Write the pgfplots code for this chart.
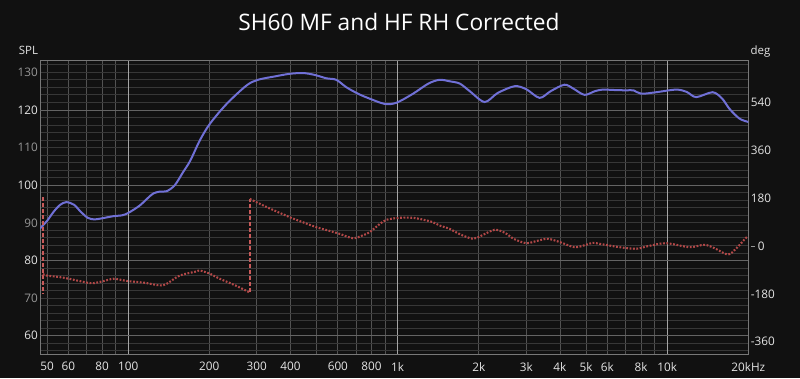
\documentclass[border=0pt]{standalone}
\usepackage{pgfplots}
\pgfplotsset{compat=1.18}
\usepackage{fontspec}
\setmainfont{Open Sans}
\definecolor{bg}{RGB}{17,17,17}
\definecolor{hminor}{RGB}{55,55,55}
\definecolor{hmajor}{RGB}{100,100,100}
\definecolor{vgrid}{RGB}{82,82,82}
\definecolor{decade}{RGB}{165,165,165}
\definecolor{frame}{RGB}{120,120,120}
\definecolor{splblue}{RGB}{112,112,214}
\definecolor{phred}{RGB}{178,72,72}
\definecolor{phwrap}{RGB}{200,90,90}
\definecolor{labw}{RGB}{228,228,228}
\definecolor{labg}{RGB}{150,150,150}
\begin{document}
\begin{tikzpicture}[x=1bp,y=1bp]
\fill[bg] (0,0) rectangle (800,378);
\useasboundingbox (0,0) rectangle (800,378);
\node[anchor=base,text=white,font=\fontsize{22.8}{26}\selectfont] at (399,347.3) {SH60 MF and HF RH Corrected};
\node[anchor=base,text=labw,font=\fontsize{11.5}{13}\selectfont] at (28.5,324) {SPL};
\node[anchor=base,text=labw,font=\fontsize{11.5}{13}\selectfont] at (760.5,324) {deg};
\begin{axis}[
  at={(40bp,24bp)}, anchor=south west, scale only axis,
  width=708.3bp, height=293.3bp,
  xmode=log, xmin=47.1, xmax=20000,
  ymin=55.14, ymax=133.08,
  axis line style={draw=frame, line width=0.8bp},
  major tick length=0pt, minor tick length=0pt,
  tick style={draw=none},
  xtick={50,60,80,200,300,400,600,800,2000,3000,4000,5000,6000,8000,20000},
  xticklabels={50,60,80,200,300,400,600,800,2k,3k,4k,5k,6k,8k,20kHz},
  minor xtick={70,90,500,700,900,7000,9000},
  extra x ticks={100,1000,10000},
  extra x tick labels={100,1k,10k},
  extra x tick style={major x grid style={draw=decade, line width=0.9bp}},
  xmajorgrids, xminorgrids,
  major x grid style={draw=vgrid, line width=0.8bp},
  minor x grid style={draw=vgrid, line width=0.8bp},
  ytick={70,90,110,130},
  yticklabels={{\color{labg}70},{\color{labg}90},{\color{labg}110},{\color{labg}130}},
  extra y ticks={60,80,100,120},
  extra y tick labels={{\color{labw}60},{\color{labw}80},{\color{labw}100},{\color{labw}120}},
  extra y tick style={major y grid style={draw=hmajor, line width=0.8bp}},
  minor ytick={56,58,...,132},
  ymajorgrids, yminorgrids,
  major y grid style={draw=hminor, line width=0.8bp},
  minor y grid style={draw=hminor, line width=0.8bp},
  xticklabel style={text=labw, font=\fontsize{11.8}{13}\selectfont, inner sep=0pt, anchor=north, yshift=-8bp},
  yticklabel style={font=\fontsize{11.8}{13}\selectfont, inner sep=0pt, anchor=east, xshift=-2bp},
]
\addplot[splblue, line width=2bp, smooth, tension=0.5] coordinates {
(47.1,88.5) (50,90.5) (53,93.0) (56,94.8) (59,95.5) (63,94.8) (67,92.8) (71,91.3)
(75,90.9) (80,91.2) (88,91.75) (95,92.0) (100,92.6) (110,94.5) (118,96.5) (124,97.8)
(131,98.3) (139,98.4) (149,100) (160,103.5) (170,106.5) (184.5,111.9) (201,116.3)
(232,121.6) (275,126.5) (303,128.0) (350,128.9) (398,129.6) (446,129.8) (492,129.3)
(544,128.4) (592,128.0) (646,126.0) (713,124.3) (787,123.0) (895,121.6) (989,121.9)
(1140,124.3) (1300,127.0) (1430,128.0) (1560,127.6) (1700,127.0) (1850,125.0)
(2102,122.1) (2350,124.5) (2716,126.3) (3000,125.5) (3362,123.2) (3700,125.0)
(4160,126.7) (4500,125.6) (4934,124.0) (5400,125.0) (5768,125.4) (6300,125.3)
(7043,125.2) (7500,125.2) (8009,124.3) (9100,124.7) (10790,125.4) (11800,124.8)
(12810,123.4) (14750,124.7) (16000,123.0) (17020,120.3) (18540,117.7) (20000,116.8)
};
\end{axis}
\begin{axis}[
  at={(40bp,24bp)}, anchor=south west, scale only axis,
  width=708.3bp, height=293.3bp,
  xmode=log, xmin=47.1, xmax=20000,
  ymin=-406.3, ymax=698.2,
  hide x axis, axis y line*=right,
  axis line style={draw=none},
  major tick length=0pt, tick style={draw=none},
  ytick={-360,-180,0,180,360,540},
  yticklabels={-360,-180,{\textcolor{labg}{\rule[3.8bp]{4.5bp}{0.7bp}}\hspace{2.5bp}0},180,360,540},
  yticklabel style={text=labw, font=\fontsize{11.8}{13}\selectfont, inner sep=0pt, anchor=west, xshift=2.4bp},
]
\addplot[phwrap, line width=2bp, dash pattern=on 4bp off 2bp] coordinates {(48.2,184) (48.2,-180)};
\addplot[phred, line width=2.1bp, dash pattern=on 1.8bp off 1.6bp, smooth, tension=0.5] coordinates {
(48.3,-105) (49.8,-110.7) (55,-116) (59.1,-121) (65,-130) (73.1,-139.7) (80,-133)
(88,-123) (94,-127) (100,-132) (115,-138) (131,-148) (139,-142) (155.5,-110.7)
(179,-95.6) (184.5,-92) (200,-103) (218.8,-123) (250,-148) (281,-173.5)
};
\addplot[phwrap, line width=2bp, dash pattern=on 4bp off 2bp] coordinates {(283,-173.5) (283,178)};
\addplot[phred, line width=2.1bp, dash pattern=on 1.8bp off 1.6bp, smooth, tension=0.5] coordinates {
(283,178) (290.8,171.7) (330,145) (398,108.8) (450,88) (499.5,71.2) (560,57) (609,46.3)
(682,29.7) (740,40) (787,52.3) (850,80) (908,99) (1017,106.5) (1140,106.5) (1250,99)
(1352,90) (1431,77.6) (1559,65) (1700,45) (1901,27.5) (2050,40) (2289,61.4) (2500,50)
(2700,27) (3000,11) (3300,20) (3607,27.5) (4000,15) (4529,-4) (5000,5) (5297,12.4)
(5611,8.7) (6650,-4) (7675,-10) (8500,0) (9908,11) (12100,-4) (13740,4.9) (15000,-8)
(16780,-31.6) (18000,-10) (19600,31.2) (20000,36)
};
\end{axis}
\end{tikzpicture}
\end{document}
